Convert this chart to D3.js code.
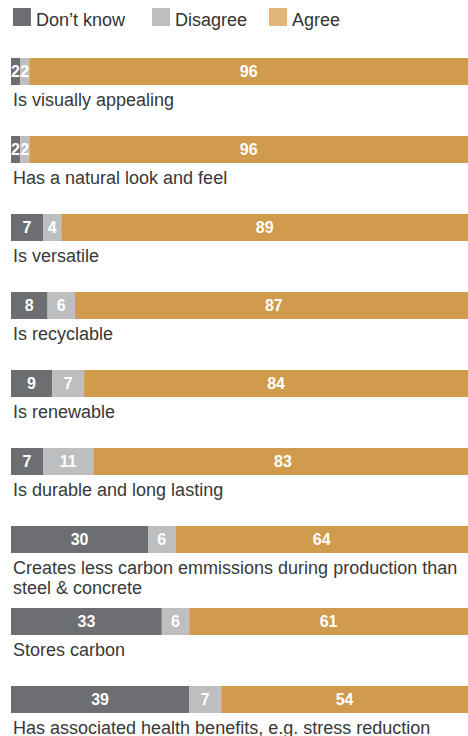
<!DOCTYPE html>
<meta charset="utf-8">
<style>
	body { margin: 0; background: #fff; }
	svg { display: block; font-family: "Liberation Sans", Arial, sans-serif; }
</style>
<div id="vis-attitudes"></div>
<script src="https://cdn.jsdelivr.net/npm/d3@7"></script>
<script>
	// data
	const categories = [
		"Is visually appealing",
		"Has a natural look and feel",
		"Is versatile",
		"Is recyclable",
		"Is renewable",
		"Is durable and long lasting",
		"Creates less carbon emmissions during production than steel & concrete",
		"Stores carbon",
		"Has associated health benefits, e.g. stress reduction"
	];
	const dontKnow = [2, 2, 7, 8, 9, 7, 30, 33, 39];
	const disagree = [2, 2, 4, 6, 7, 11, 6, 6, 7];
	const agree = [96, 96, 89, 87, 84, 83, 64, 61, 54];
	const seriesNames = ["Don\u2019t know", "Disagree", "Agree"];

	const width = 468, height = 736;
	const barColors = ["#6d6e71", "#bcbec0", "#d09b4c"];
	const legendColors = ["#6d6e71", "#bcbec0", "#e2b67c"];

	const svg = d3.select("#vis-attitudes")
		.append("svg")
		.attr("width", width)
		.attr("height", height);

	// legend
	const legendX = [13, 152, 269];
	const legend = svg.append("g").attr("class", "legend")
		.selectAll("g").data(seriesNames).enter()
		.append("g")
		.attr("transform", (d, i) => "translate(" + legendX[i] + ",8)");
	legend.append("rect")
		.attr("width", 18).attr("height", 18)
		.attr("fill", (d, i) => legendColors[i]);
	legend.append("text")
		.attr("x", 23).attr("y", 17.5)
		.attr("font-size", 18)
		.attr("fill", "#333")
		.text(d => d);

	const x = d3.scaleLinear().domain([0, 100]).range([11, 468]);
	const barH = 27, step = 78, labelLine = 20;

	const rows = categories.map((c, i) => ({
		label: c,
		values: [dontKnow[i], disagree[i], agree[i]]
	}));

	const g = svg.append("g");
	let yPos = 58;
	rows.forEach(function (row) {
		const rg = g.append("g").attr("transform", "translate(0," + yPos + ")");
		let cum = 0;
		const segs = row.values.map(function (v, k) {
			const s = { v: v, x0: cum, x1: cum + v, k: k };
			cum += v;
			return s;
		});
		rg.selectAll("rect").data(segs).enter()
			.append("rect")
			.attr("x", d => x(d.x0))
			.attr("width", d => x(d.x1) - x(d.x0))
			.attr("y", 0)
			.attr("height", barH)
			.attr("fill", d => barColors[d.k]);
		rg.selectAll("text.val").data(segs).enter()
			.append("text")
			.attr("class", "val")
			.attr("x", d => (x(d.x0) + x(d.x1)) / 2)
			.attr("y", barH / 2)
			.attr("dy", "0.36em")
			.attr("text-anchor", "middle")
			.attr("font-size", 16)
			.attr("font-weight", "bold")
			.attr("fill", "#fff")
			.text(d => d.v);

		// label, wrapped to the bar width
		const label = rg.append("text")
			.attr("x", 13)
			.attr("y", barH + 21)
			.attr("font-size", 18)
			.attr("fill", "#383838");
		const words = row.label.split(" ");
		let line = [], lineNo = 0;
		let tspan = label.append("tspan").attr("x", 13);
		words.forEach(function (w) {
			line.push(w);
			tspan.text(line.join(" "));
			if (tspan.node().getComputedTextLength() > 466 && line.length > 1) {
				line.pop();
				tspan.text(line.join(" "));
				line = [w];
				lineNo++;
				tspan = label.append("tspan").attr("x", 13).attr("dy", labelLine).text(w);
			}
		});
		yPos += step + (lineNo > 0 ? 4 : 0);
	});
</script>
